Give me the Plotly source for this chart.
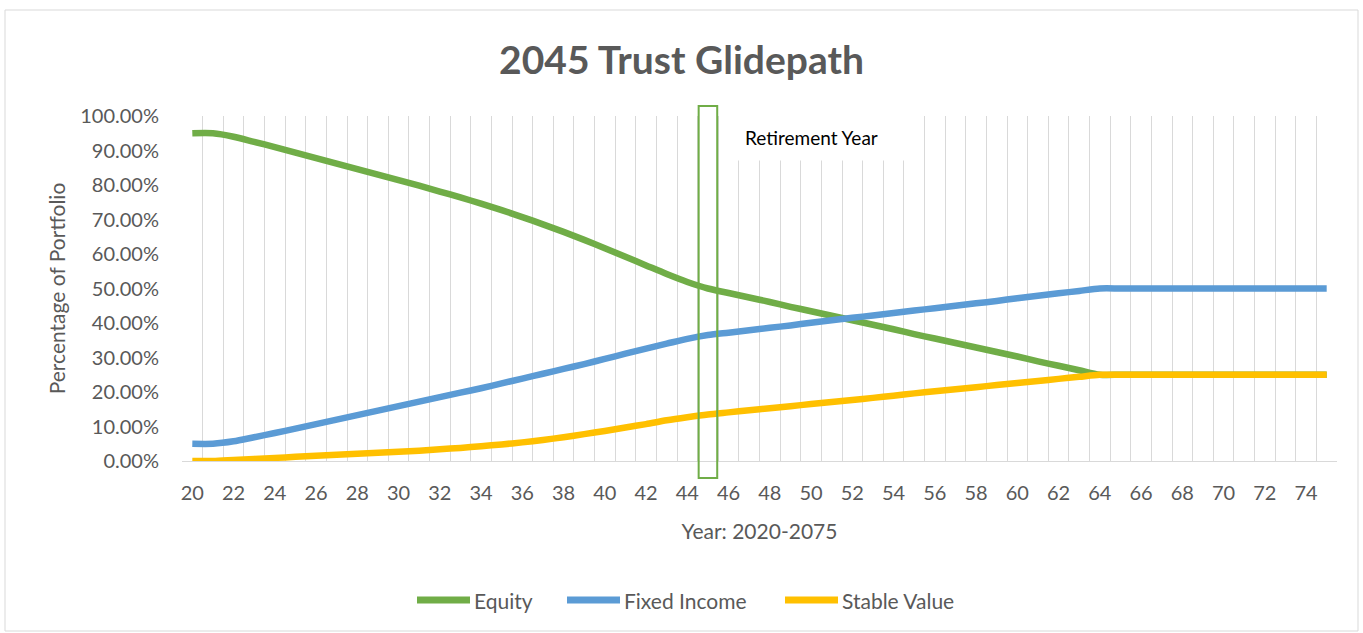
import plotly.graph_objects as go

years = list(range(20, 76))
tick_years = list(range(20, 75, 2))

equity = [95.0, 95.0, 94.0, 92.5, 91.0, 89.4, 87.8, 86.2, 84.6, 83.0,
          81.4, 79.8, 78.1, 76.4, 74.6, 72.7, 70.7, 68.6, 66.4, 64.1,
          61.7, 59.2, 56.7, 54.2, 51.9, 50.0, 48.7, 47.4, 46.1, 44.7,
          43.4, 42.1, 40.8, 39.5, 38.2, 36.8, 35.5, 34.2, 32.9, 31.6,
          30.3, 28.9, 27.6, 26.3, 25.0, 25.0, 25.0, 25.0, 25.0, 25.0,
          25.0, 25.0, 25.0, 25.0, 25.0, 25.0]
fixed_income = [5.0, 5.0, 5.7, 6.9, 8.1, 9.4, 10.7, 12.0, 13.3, 14.6,
                15.9, 17.2, 18.5, 19.8, 21.1, 22.5, 23.9, 25.3, 26.7, 28.1,
                29.6, 31.1, 32.6, 34.0, 35.4, 36.5, 37.2, 37.9, 38.6, 39.3,
                40.1, 40.8, 41.5, 42.2, 42.9, 43.6, 44.3, 45.0, 45.7, 46.4,
                47.2, 47.9, 48.6, 49.3, 50.0, 50.0, 50.0, 50.0, 50.0, 50.0,
                50.0, 50.0, 50.0, 50.0, 50.0, 50.0]
stable_value = [0.0, 0.0, 0.3, 0.6, 0.9, 1.2, 1.5, 1.8, 2.1, 2.4,
                2.7, 3.0, 3.4, 3.8, 4.3, 4.8, 5.4, 6.1, 6.9, 7.8,
                8.7, 9.7, 10.7, 11.8, 12.7, 13.5, 14.1, 14.7, 15.3, 15.9,
                16.5, 17.1, 17.7, 18.3, 18.9, 19.6, 20.2, 20.8, 21.4, 22.0,
                22.6, 23.2, 23.8, 24.4, 25.0, 25.0, 25.0, 25.0, 25.0, 25.0,
                25.0, 25.0, 25.0, 25.0, 25.0, 25.0]

series_names = ["Equity", "Fixed Income", "Stable Value"]
series_colors = ["#70AD47", "#5B9BD5", "#FFC000"]
retirement_year = 45

FONT = "Lato"
GREY = "#595959"

# plot-area geometry in pixels (used only for converting layout positions)
L, R, T, B = 182, 1337, 116, 461
PW, PH = R - L, B - T


def px(xp):
    return (xp - L) / PW


def py(yp):
    return (B - yp) / PH


fig = go.Figure()
for name, vals, col in zip(series_names, [equity, fixed_income, stable_value], series_colors):
    fig.add_trace(go.Scatter(
        x=years, y=[v / 100 for v in vals], name=name, mode="lines",
        line=dict(color=col, width=6.5, shape="spline", smoothing=0.8),
        showlegend=False, hoverinfo="x+y+name",
    ))

boundaries = [y - 0.5 for y in years] + [years[-1] + 0.5]

fig.update_layout(
    width=1363, height=633,
    paper_bgcolor="white", plot_bgcolor="white",
    margin=dict(l=L, r=1363 - R, t=T, b=633 - B, autoexpand=False),
    font=dict(family=FONT, color=GREY, size=21),
    title=dict(text="<b>2045 Trust Glidepath</b>", x=0.5, xanchor="center",
               y=1 - 60 / 633, yanchor="middle",
               font=dict(family=FONT, size=39, color=GREY)),
    xaxis=dict(
        range=[years[0] - 0.5, years[-1] + 0.5],
        tickmode="array", tickvals=tick_years, ticktext=[str(t) for t in tick_years],
        showgrid=False, zeroline=False,
        showline=True, linecolor="#d9d9d9", linewidth=1,
        ticks="", ticklabelstandoff=14,
        tickfont=dict(family=FONT, size=20, color=GREY),
        title=dict(text="Year: 2020-2075", standoff=21,
                   font=dict(family=FONT, size=21, color=GREY)),
        minor=dict(tickmode="array", tickvals=boundaries, showgrid=True,
                   gridcolor="#d9d9d9", gridwidth=1, ticks=""),
        fixedrange=True,
    ),
    yaxis=dict(
        range=[0, 1], tickmode="array", tickvals=[i / 10 for i in range(11)],
        tickformat=".2%", showgrid=False, zeroline=False, showline=False,
        ticks="", ticklabelstandoff=22,
        tickfont=dict(family=FONT, size=20, color=GREY),
        title=dict(text="Percentage of Portfolio", standoff=8,
                   font=dict(family=FONT, size=21, color=GREY)),
        fixedrange=True,
    ),
    showlegend=False,
)

# Retirement-year marker box
fig.add_shape(type="rect", xref="x", yref="paper",
              x0=retirement_year - 0.45, x1=retirement_year + 0.45,
              y0=py(478), y1=py(106),
              line=dict(color="#70AD47", width=2), fillcolor="rgba(0,0,0,0)",
              layer="above")

# Retirement-year label with white background
fig.add_annotation(text="Retirement Year", xref="paper", yref="paper",
                   x=px(820), y=py(137),
                   xanchor="center", yanchor="middle", showarrow=False,
                   width=150, align="left", bgcolor="white", borderpad=11,
                   font=dict(family=FONT, size=19, color="black"))

# Legend (line samples + labels)
legend_samples = [(417, 470), (567, 620), (785, 838)]
legend_y = py(600)
for (x0, x1), name, col in zip(legend_samples, series_names, series_colors):
    fig.add_shape(type="line", xref="paper", yref="paper",
                  x0=px(x0), x1=px(x1), y0=legend_y, y1=legend_y,
                  line=dict(color=col, width=7))
    fig.add_annotation(text=name, xref="paper", yref="paper",
                       x=px(x1 + 2), y=legend_y, xanchor="left", yanchor="middle",
                       showarrow=False, font=dict(family=FONT, size=21, color=GREY))

# Outer chart border
fig.add_shape(type="rect", xref="paper", yref="paper",
              x0=px(5), x1=px(1358), y0=py(631), y1=py(10),
              line=dict(color="#d9d9d9", width=1), fillcolor="rgba(0,0,0,0)",
              layer="below")

fig.write_html("out.html", config={"displayModeBar": False},
               post_script="document.body.style.margin='0px';document.body.style.overflow='hidden';")
